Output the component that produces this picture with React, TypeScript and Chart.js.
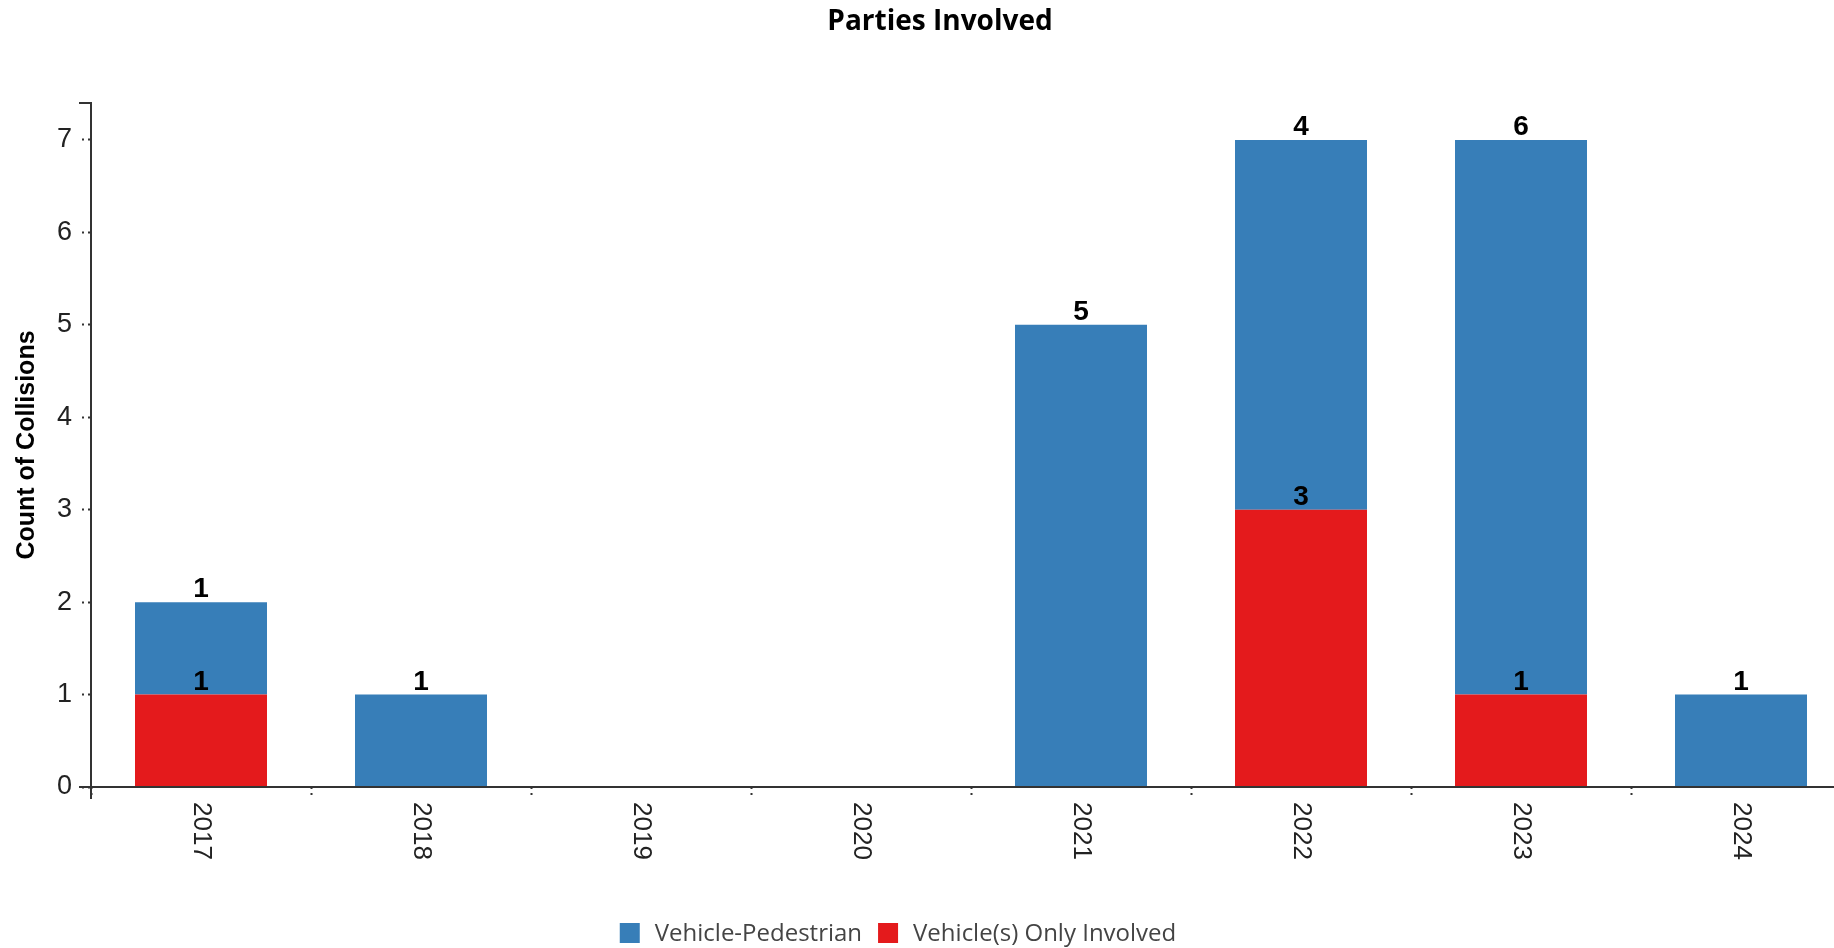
import React, { useEffect, useRef } from "react";
import { Chart, registerables } from "chart.js";

Chart.register(...registerables);

const categories = ["2017", "2018", "2019", "2020", "2021", "2022", "2023", "2024"];
const vehiclePedestrian = [1, 1, 0, 0, 5, 4, 6, 1];
const vehicleOnly = [1, 0, 0, 0, 0, 3, 1, 0];
const seriesLabels = ["Vehicle-Pedestrian", "Vehicle(s) Only Involved"];
const seriesColors = ["#377eb8", "#e41a1c"];
const chartTitle = "Parties Involved";
const yAxisTitle = "Count of Collisions";
const yMin = 0;
const yMax = 7.4;
const yStep = 1;

const SANS = "Arial, 'Liberation Sans', sans-serif";
const AXIS_COLOR = "#333";

const decorPlugin = {
  id: "decor",
  afterDatasetsDraw(chart: any) {
    const { ctx } = chart;
    ctx.save();
    ctx.font = `bold 28px ${SANS}`;
    ctx.fillStyle = "#000";
    ctx.textAlign = "center";
    ctx.textBaseline = "alphabetic";
    chart.data.datasets.forEach((ds: any, d: number) => {
      const meta = chart.getDatasetMeta(d);
      meta.data.forEach((el: any, i: number) => {
        const v = ds.data[i];
        if (!v) return;
        ctx.fillText(String(v), el.x, el.y - 5);
      });
    });
    ctx.restore();
  },
  afterDraw(chart: any) {
    const { ctx, chartArea: ca } = chart;
    const xScale = chart.scales.x;
    ctx.save();
    // axis domain lines with outer ticks
    ctx.strokeStyle = AXIS_COLOR;
    ctx.lineWidth = 2;
    ctx.beginPath();
    ctx.moveTo(ca.left - 12, ca.top);
    ctx.lineTo(ca.left, ca.top);
    ctx.lineTo(ca.left, ca.bottom + 12);
    ctx.moveTo(ca.left - 12, ca.bottom);
    ctx.lineTo(ca.right, ca.bottom);
    ctx.lineTo(ca.right, ca.bottom + 12);
    ctx.stroke();

    // rotated x labels (clockwise)
    ctx.font = `26px ${SANS}`;
    ctx.fillStyle = "#222";
    ctx.textAlign = "left";
    ctx.textBaseline = "middle";
    categories.forEach((c, i) => {
      const x = xScale.getPixelForValue(i);
      ctx.save();
      ctx.translate(x, ca.bottom + 15);
      ctx.rotate(Math.PI / 2);
      ctx.fillText(c, 0, 0);
      ctx.restore();
    });

    // legend
    ctx.font = `24px 'Open Sans', sans-serif`;
    const box = 20;
    const gapText = 15;
    const gapItem = 16;
    const widths = seriesLabels.map((l) => ctx.measureText(l).width);
    const total =
      widths.reduce((a, w) => a + box + gapText + w, 0) + gapItem * (seriesLabels.length - 1);
    let x = 898 - total / 2;
    const yTop = 923;
    seriesLabels.forEach((l, i) => {
      ctx.fillStyle = seriesColors[i];
      ctx.fillRect(x, yTop, box, box);
      x += box + gapText;
      ctx.fillStyle = "#444";
      ctx.textAlign = "left";
      ctx.textBaseline = "middle";
      ctx.fillText(l, x, yTop + box / 2 + 1);
      x += widths[i] + gapItem;
    });
    ctx.restore();
  },
};

export default function App() {
  const ref = useRef<HTMLCanvasElement | null>(null);

  useEffect(() => {
    if (!ref.current) return;
    const chart = new Chart(ref.current, {
      type: "bar",
      data: {
        labels: categories,
        datasets: [
          {
            label: seriesLabels[1],
            data: vehicleOnly,
            backgroundColor: seriesColors[1],
            borderWidth: 0,
            barPercentage: 0.6,
            categoryPercentage: 1,
          },
          {
            label: seriesLabels[0],
            data: vehiclePedestrian,
            backgroundColor: seriesColors[0],
            borderWidth: 0,
            barPercentage: 0.6,
            categoryPercentage: 1,
          },
        ],
      },
      options: {
        animation: false,
        responsive: false,
        devicePixelRatio: 1,
        layout: { padding: 0 },
        plugins: {
          legend: { display: false },
          tooltip: { enabled: false },
          title: {
            display: true,
            text: chartTitle,
            color: "#000",
            font: { family: "'Open Sans', sans-serif", weight: "bold", size: 28, lineHeight: 1.2 },
            padding: { top: 5, bottom: 64.4 },
          },
        },
        scales: {
          x: {
            type: "category",
            stacked: true,
            offset: true,
            border: { display: false },
            grid: {
              offset: true,
              drawOnChartArea: false,
              drawTicks: true,
              tickLength: 12,
              tickColor: AXIS_COLOR,
              tickWidth: 2,
              tickBorderDash: [2, 4],
            },
            ticks: { display: false },
            afterFit: (s: any) => {
              s.height = 161;
            },
          },
          y: {
            stacked: true,
            min: yMin,
            max: yMax,
            border: { display: false },
            grid: {
              drawOnChartArea: false,
              drawTicks: true,
              tickLength: 9,
              tickColor: AXIS_COLOR,
              tickWidth: 2,
              tickBorderDash: [2, 4],
            },
            ticks: {
              stepSize: yStep,
              includeBounds: false,
              padding: 10,
              color: "#222",
              font: { family: SANS, size: 27 },
            },
            title: {
              display: true,
              text: yAxisTitle,
              color: "#000",
              font: { family: SANS, weight: "bold", size: 25 },
              padding: { top: 12, bottom: 0 },
            },
            afterFit: (s: any) => {
              s.width = 91;
            },
          },
          yRight: {
            position: "right",
            min: yMin,
            max: yMax,
            border: { display: false },
            grid: { display: false, drawTicks: false },
            ticks: { display: false },
            afterFit: (s: any) => {
              s.width = 29;
            },
          },
        },
      } as any,
      plugins: [decorPlugin],
    });
    return () => chart.destroy();
  }, []);

  return (
    <div
      style={{
        position: "fixed",
        left: 0,
        top: 0,
        width: 1834,
        height: 948,
        overflow: "hidden",
        background: "#fff",
      }}
    >
      <canvas ref={ref} width={1880} height={948} style={{ display: "block" }} />
    </div>
  );
}
